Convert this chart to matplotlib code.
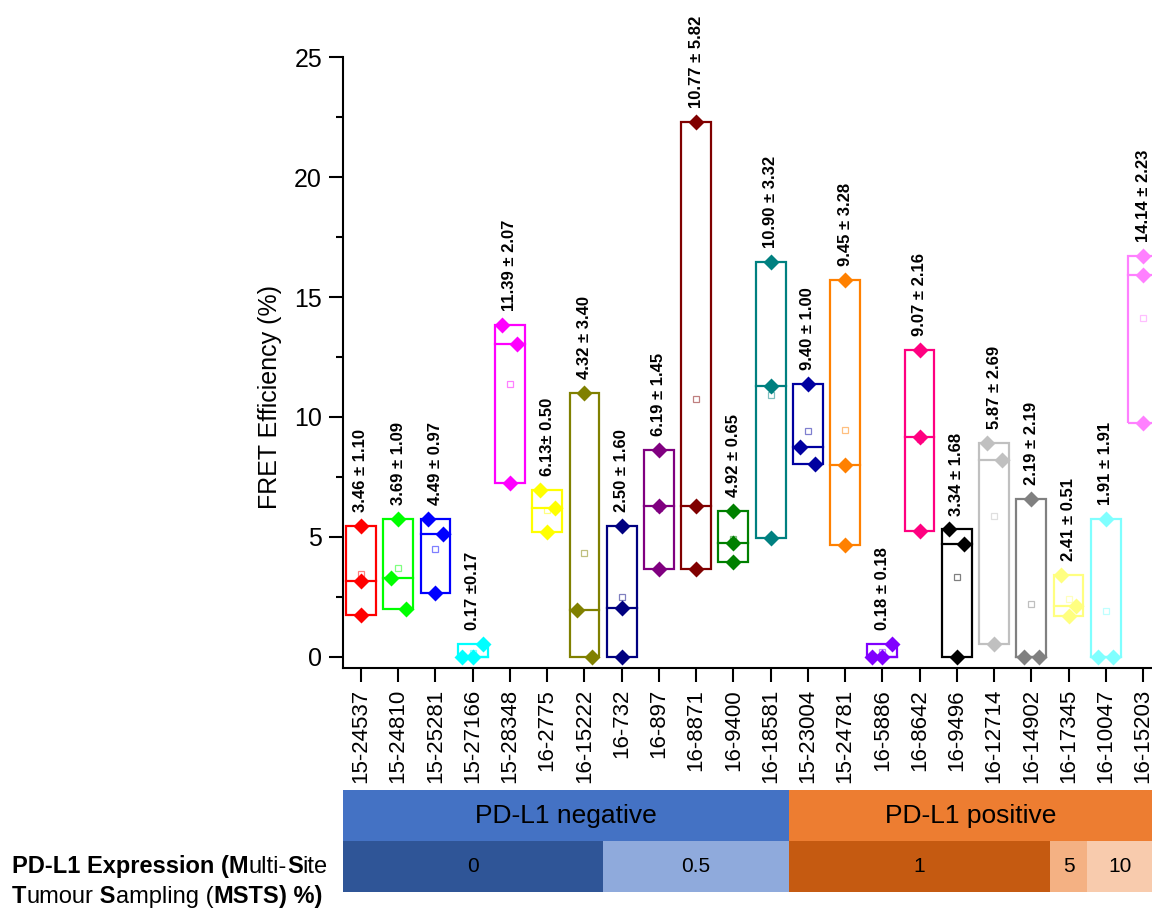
import numpy as np
import matplotlib
matplotlib.use('Agg')
import matplotlib.pyplot as plt
from matplotlib.patches import Rectangle

plt.rcParams['font.family'] = ['Liberation Sans', 'DejaVu Sans']

# sample IDs, in plot order
samples = ['15-24537', '15-24810', '15-25281', '15-27166', '15-28348', '16-2775',
           '16-15222', '16-732', '16-897', '16-8871', '16-9400', '16-18581',
           '15-23004', '15-24781', '16-5886', '16-8642', '16-9496', '16-12714',
           '16-14902', '16-17345', '16-10047', '16-15203']

# three FRET efficiency measurements (%) per sample
fret_a = [5.47, 5.74, 5.74, 0.00, 13.85, 6.96, 10.99, 5.47, 8.63, 22.30, 6.08,
          16.46, 11.36, 15.71, 0.00, 12.79, 5.31, 8.90, 6.57, 3.42, 5.74, 16.72]
fret_b = [3.17, 3.30, 5.12, 0.00, 13.05, 6.22, 1.96, 2.05, 6.30, 6.30, 4.76,
          11.30, 8.76, 8.00, 0.00, 9.18, 4.71, 8.20, 0.00, 2.13, 0.00, 15.92]
fret_c = [1.72, 1.99, 2.65, 0.53, 7.25, 5.20, 0.00, 0.00, 3.65, 3.65, 3.97,
          4.97, 8.03, 4.65, 0.55, 5.26, 0.00, 0.53, 0.00, 1.68, 0.00, 9.75]
# horizontal jitter direction of the three points
jitter = [(0, 0, 0), (0, -1, 1), (-1, 1, 0), (-1.4, 0, 1.4), (-1, 1, 0), (-1, 1, 0),
          (0, -1, 1), (0, 0, 0), (0, 0, 0), (0, 0, 0), (0, 0, 0), (0, 0, 0),
          (0, -1, 1), (0, 0, 0), (-1.4, 0, 1.3), (0, 0, 0), (-1, 1, 0), (-1, 1, 0),
          (0, -1, 1), (-1, 1, 0), (0, -1, 1), (0, 0, 0)]

means = [3.46, 3.69, 4.49, 0.17, 11.39, 6.13, 4.32, 2.50, 6.19, 10.77, 4.92,
         10.90, 9.40, 9.45, 0.18, 9.07, 3.34, 5.87, 2.19, 2.41, 1.91, 14.14]
labels = ['3.46 ± 1.10', '3.69 ± 1.09', '4.49 ± 0.97', '0.17 ±0.17', '11.39 ± 2.07',
          '6.13± 0.50', '4.32 ± 3.40', '2.50 ± 1.60', '6.19 ± 1.45', '10.77 ± 5.82',
          '4.92 ± 0.65', '10.90 ± 3.32', '9.40 ± 1.00', '9.45 ± 3.28', '0.18 ± 0.18',
          '9.07 ± 2.16', '3.34 ± 1.68', '5.87 ± 2.69', '2.19 ± 2.19', '2.41 ± 0.51',
          '1.91 ± 1.91', '14.14 ± 2.23']

colors = ['#FF0000', '#00FF00', '#0000FF', '#00FFFF', '#FF00FF', '#FFFF00',
          '#808000', '#000080', '#800080', '#800000', '#008000', '#008080',
          '#0000A0', '#FF8000', '#8000FF', '#FF0080', '#000000', '#C0C0C0',
          '#808080', '#FFFF80', '#80FFFF', '#FF80FF']

# table under the chart
status = ['PD-L1 negative', 'PD-L1 positive']
status_n = [12, 10]
status_col = ['#4472C4', '#ED7D31']
msts = ['0', '0.5', '1', '5', '10']
msts_n = [7, 5, 7, 1, 2]
msts_col = ['#2F5597', '#8FAADC', '#C55A11', '#F4B183', '#F8CBAD']

fig = plt.figure(figsize=(11.52, 9.08), dpi=100)
ax = fig.add_axes([0.2977, 0.2640, 0.7023, 0.6728])

for i in range(len(samples)):
    vals = np.array([fret_a[i], fret_b[i], fret_c[i]])
    c = colors[i]
    lo, hi, med = vals.min(), vals.max(), np.median(vals)
    ax.add_patch(Rectangle((i - 0.4, lo), 0.8, hi - lo, fill=False, ec=c, lw=1.6))
    ax.plot([i - 0.4, i + 0.4], [med, med], color=c, lw=1.6)
    ax.plot(i + np.array(jitter[i]) * 0.2, vals, 'D', ms=8, color=c, mec='none')
    ax.plot(i, means[i], 's', ms=4.5, mfc='none', mec=c, mew=0.9, alpha=0.5)
    ax.annotate(labels[i], (i, hi), xytext=(0, 10), textcoords='offset points',
                rotation=90, ha='center', va='bottom', fontsize=12, fontweight='bold')

ax.set_xlim(-0.483, 21.24)
ax.set_ylim(-0.484, 25)
ax.set_xticks(np.arange(len(samples)), samples, rotation=90, fontsize=16)
ax.set_yticks(np.arange(0, 26, 5))
ax.set_yticks(np.arange(0, 25.1, 2.5), minor=True)
ax.tick_params(axis='y', which='major', length=10, width=1.5, labelsize=18, pad=5)
ax.tick_params(axis='y', which='minor', length=5, width=1.5)
ax.tick_params(axis='x', length=10, width=1.5, pad=5)
for s in ['top', 'right']:
    ax.spines[s].set_visible(False)
for s in ['left', 'bottom']:
    ax.spines[s].set_linewidth(1.5)
ax.set_ylabel('FRET Efficiency (%)', fontsize=18)
ax.yaxis.set_label_coords(-0.0754, 0.4435)

# PD-L1 table
tab = fig.add_axes([0.2977, 0.0176, 0.7023, 0.1123])
tab.set_xlim(ax.get_xlim())
tab.set_ylim(0, 2)
tab.axis('off')
x0, x1 = tab.get_xlim()
for row, names, counts, cols, fs in [(1, status, status_n, status_col, 19),
                                     (0, msts, msts_n, msts_col, 15)]:
    start = -0.5
    for name, n, col in zip(names, counts, cols):
        end = start + n
        tab.add_patch(Rectangle((start, row), n, 1, color=col, lw=0))
        cx = (max(start, x0) + min(end, x1)) / 2
        tab.text(cx, row + 0.5, name, ha='center', va='center', fontsize=fs)
        start = end

# left caption with bold initials
lines = [[('PD-L1 Expression (M', 'bold'), ('ulti-', 'normal'), ('S', 'bold'), ('ite', 'normal')],
         [('T', 'bold'), ('umour', 'normal'), (' S', 'bold'), ('ampling (', 'normal'),
          ('MSTS', 'bold'), (') %)', 'bold')]]
for k, line in enumerate(lines):
    prev = fig.text(12 / 1152, 1 - (873 + 30 * k) / 908, line[0][0], fontsize=17,
                    fontweight=line[0][1], va='baseline')
    for txt, w in line[1:]:
        prev = ax.annotate(txt, xy=(1, 0), xycoords=prev, va='bottom', ha='left',
                           fontsize=17, fontweight=w, annotation_clip=False)

fig.savefig('out.png', dpi=100)
